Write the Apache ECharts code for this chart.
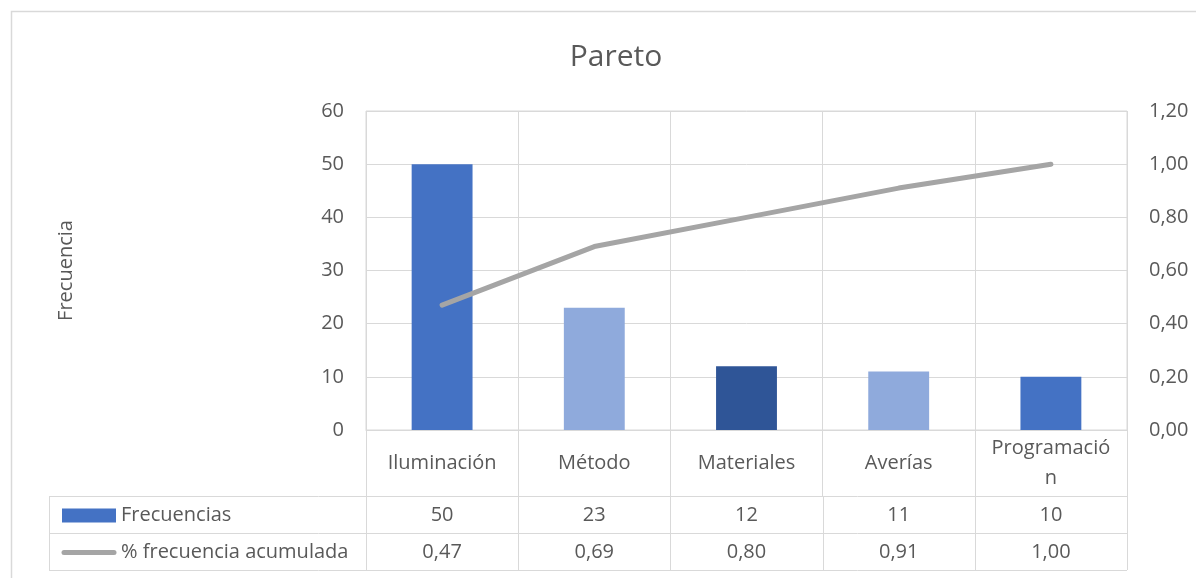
<!DOCTYPE html>
<html>
<head>
<meta charset="utf-8">
<script src="https://cdn.jsdelivr.net/npm/echarts@6/dist/echarts.min.js"></script>
<style>
  * { margin: 0; padding: 0; }
  html, body { width: 100%; height: 100%; background: #fff; }
  #chart { width: 1196px; height: 578px; }
</style>
</head>
<body>
<div id="chart"></div>
<script>
var categories = ['Iluminación', 'Método', 'Materiales', 'Averías', 'Programación']
var frecuencias = [50, 23, 12, 11, 10]
var acumulada = [0.47, 0.69, 0.80, 0.91, 1.00]
var barColors = ['#4472C4', '#8FAADC', '#2F5597', '#8FAADC', '#4472C4']
var leftTicks = { min: 0, max: 60, interval: 10 }
var rightTicks = { min: 0, max: 1.2, interval: 0.2 }

var font = 'Open Sans'
var fontSize = 20
var textColor = '#595959'
var gridColor = '#D9D9D9'

// layout of plot and table (pixels)
var plotLeft = 366, plotRight = 1127, plotTop = 111, plotBottom = 430
var rowTop = 496, rowMid = 533, rowBottom = 570, tableLeft = 49

function fmt2(v) {
  return v.toFixed(2).replace('.', ',')
}

var chart = echarts.init(document.getElementById('chart'))

var options = {
  animation: false,
  title: {
    text: 'Pareto',
    left: 611,
    top: 37,
    textAlign: 'center',
    textStyle: { color: textColor, fontFamily: font, fontWeight: 'normal', fontSize: 30 }
  },
  grid: {
    left: plotLeft,
    right: 1196 - plotRight,
    top: plotTop,
    bottom: 578 - plotBottom,
    show: true,
    borderColor: gridColor,
    borderWidth: 1
  },
  xAxis: {
    type: 'category',
    data: categories,
    axisLine: { lineStyle: { color: gridColor } },
    axisTick: { show: true, length: rowTop - plotBottom, lineStyle: { color: gridColor } },
    splitLine: { show: true, lineStyle: { color: gridColor } },
    axisLabel: {
      color: textColor,
      fontFamily: font,
      fontSize: fontSize,
      margin: 33,
      verticalAlign: 'middle',
      lineHeight: 30,
      interval: 0,
      formatter: function (value) {
        // Excel parte la etiqueta cuando no cabe
        var maxLength = 11
        if (value.length <= maxLength) return value
        return value.substring(0, maxLength) + '\n' + value.substring(maxLength)
      }
    }
  },
  yAxis: [
    {
      type: 'value',
      min: leftTicks.min,
      max: leftTicks.max,
      interval: leftTicks.interval,
      name: 'Frecuencia',
      nameLocation: 'middle',
      nameRotate: 90,
      nameGap: 290,
      nameTextStyle: { color: textColor, fontFamily: font, fontSize: fontSize },
      axisLine: { show: false },
      axisTick: { show: false },
      splitLine: { lineStyle: { color: gridColor } },
      axisLabel: { color: textColor, fontFamily: font, fontSize: fontSize, margin: 22 }
    },
    {
      type: 'value',
      min: rightTicks.min,
      max: rightTicks.max,
      interval: rightTicks.interval,
      position: 'right',
      axisLine: { show: false },
      axisTick: { show: false },
      splitLine: { show: false },
      axisLabel: { color: textColor, fontFamily: font, fontSize: fontSize, margin: 22, formatter: fmt2 }
    }
  ],
  series: [
    {
      name: 'Frecuencias',
      type: 'bar',
      barCategoryGap: '60%',
      data: frecuencias.map(function (v, i) {
        return { value: v, itemStyle: { color: barColors[i] } }
      })
    },
    {
      name: '% frecuencia acumulada',
      type: 'line',
      yAxisIndex: 1,
      symbol: 'none',
      lineStyle: { color: '#A5A5A5', width: 5, cap: 'round' },
      data: acumulada
    }
  ]
}
chart.setOption(options)

// tabla de datos bajo el eje
function buildTable() {
  var g = []
  var stroke = { stroke: gridColor, lineWidth: 1 }
  g.push({ type: 'rect', shape: { x: 11.5, y: 11.5, width: 1300, height: 700 }, style: { fill: 'none', stroke: gridColor, lineWidth: 1.5 } })
  ;[rowTop, rowMid, rowBottom].forEach(function (y) {
    g.push({ type: 'line', shape: { x1: tableLeft, y1: y + 0.5, x2: plotRight, y2: y + 0.5 }, style: stroke })
  })
  var edges = [tableLeft]
  for (var i = 0; i <= categories.length; i++) {
    edges.push(plotLeft + (plotRight - plotLeft) * i / categories.length)
  }
  edges.forEach(function (x) {
    g.push({ type: 'line', shape: { x1: Math.round(x) + 0.5, y1: rowTop, x2: Math.round(x) + 0.5, y2: rowBottom }, style: stroke })
  })
  var yFreq = (rowTop + rowMid) / 2 + 1
  var yAcum = (rowMid + rowBottom) / 2 + 1
  // claves de leyenda
  g.push({ type: 'rect', shape: { x: 62, y: yFreq - 7, width: 54, height: 14 }, style: { fill: barColors[0] } })
  g.push({ type: 'line', shape: { x1: 64, y1: yAcum, x2: 114, y2: yAcum }, style: { stroke: '#A5A5A5', lineWidth: 5, lineCap: 'round' } })
  var ts = { fill: textColor, font: fontSize + 'px "' + font + '"', textVerticalAlign: 'middle' }
  g.push({ type: 'text', x: 121, y: yFreq, style: Object.assign({ text: 'Frecuencias' }, ts) })
  g.push({ type: 'text', x: 121, y: yAcum, style: Object.assign({ text: '% frecuencia acumulada' }, ts) })
  for (var j = 0; j < categories.length; j++) {
    var cx = chart.convertToPixel({ xAxisIndex: 0 }, j)
    g.push({ type: 'text', x: cx, y: yFreq, style: Object.assign({ text: String(frecuencias[j]), textAlign: 'center' }, ts) })
    g.push({ type: 'text', x: cx, y: yAcum, style: Object.assign({ text: fmt2(acumulada[j]), textAlign: 'center' }, ts) })
  }
  chart.setOption({ graphic: g })
}
buildTable()
</script>
</body>
</html>
